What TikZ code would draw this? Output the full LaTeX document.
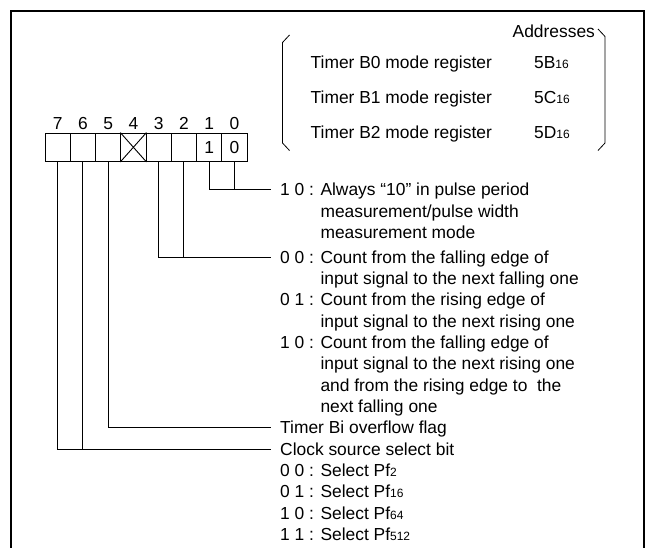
\documentclass[tikz,border=0pt]{standalone}
\usepackage{fontspec}
\setmainfont{Liberation Sans}
\newcommand\smalldig[1]{{\fontsize{12}{12}\selectfont #1}}
\begin{document}
\begin{tikzpicture}[x=1pt,y=-1pt,
  every node/.style={font=\fontsize{17.4}{21.33}\selectfont, inner sep=0pt},
  txt/.style={anchor=base west},
  cell/.style={draw, line width=0.9pt, minimum width=25.25pt, minimum height=28.5pt},
  conn/.style={line width=0.9pt},
  frame/.style={line width=2.5pt},
  brk/.style={line width=0.8pt}]
\useasboundingbox (0,0) rectangle (647,547);
% frame (open at the bottom)
\draw[frame] (11,549) -- (11,11) -- (644,11) -- (644,549);
% header
\node[txt] (addr) at (512.5,37.2) {Addresses};
\node[txt] (r0) at (310.5,68.2) {Timer B0 mode register};
\node[txt] (r1) at (310.5,103.2) {Timer B1 mode register};
\node[txt] (r2) at (310.5,138.2) {Timer B2 mode register};
\node[txt] (a0) at (534,68.2) {5B\smalldig{16}};
\node[txt] (a1) at (534,103.2) {5C\smalldig{16}};
\node[txt] (a2) at (534,138.2) {5D\smalldig{16}};
\draw[brk] (289.5,35) -- (282.5,42.5) -- (282.5,143) -- (289.5,150.5);
\draw[brk] (598,29) -- (605,36.5) -- (605,143) -- (598,150.5);
% register cells
\foreach \b in {0,...,7} {
  \node[cell] (c\b) at ({45+(7-\b)*25.25+12.625},147.25) {};
  \node (n\b) at ({45+(7-\b)*25.25+12.625},123.5) {\b};
}
\draw[line width=0.9pt] (c4.north west) -- (c4.south east) (c4.north east) -- (c4.south west);
\node (v1) at (c1) {1};
\node (v0) at (c0) {0};
% connector end points
\coordinate (e10) at (271,189.5);
\coordinate (e32) at (271,257);
\coordinate (e5) at (271,427.7);
\coordinate (e76) at (271,449);
\draw[conn] (c1.south) |- (e10);
\draw[conn] (c0.south) -- (c0.south |- e10);
\draw[conn] (c3.south) |- (e32);
\draw[conn] (c2.south) -- (c2.south |- e32);
\draw[conn] (c5.south) |- (e5);
\draw[conn] (c7.south) |- (e76);
\draw[conn] (c6.south) -- (c6.south |- e76);
% descriptions
\node[txt] (d10a) at (280,195.7) {1 0 : Always “10” in pulse period};
\node[txt] (d10b) at (280,217.03) {\hphantom{1 0 : }measurement/pulse width};
\node[txt] (d10c) at (280,238.37) {\hphantom{1 0 : }measurement mode};
\node[txt] (d32a) at (280,263.2) {0 0 : Count from the falling edge of};
\node[txt] (d32b) at (280,284.53) {\hphantom{0 0 : }input signal to the next falling one};
\node[txt] (d32c) at (280,305.87) {0 1 : Count from the rising edge of};
\node[txt] (d32d) at (280,327.2) {\hphantom{0 1 : }input signal to the next rising one};
\node[txt] (d32e) at (280,348.53) {1 0 : Count from the falling edge of};
\node[txt] (d32f) at (280,369.87) {\hphantom{1 0 : }input signal to the next rising one};
\node[txt] (d32g) at (280,391.2) {\hphantom{1 0 : }and from the rising edge to\ \ the};
\node[txt] (d32h) at (280,412.53) {\hphantom{1 0 : }next falling one};
\node[txt] (d5) at (280,433.87) {Timer Bi overflow flag};
\node[txt] (d76a) at (280,455.2) {Clock source select bit};
\node[txt] (d76b) at (280,476.53) {0 0 : Select Pf\smalldig{2}};
\node[txt] (d76c) at (280,497.87) {0 1 : Select Pf\smalldig{16}};
\node[txt] (d76d) at (280,519.2) {1 0 : Select Pf\smalldig{64}};
\node[txt] (d76e) at (280,540.53) {1 1 : Select Pf\smalldig{512}};
\end{tikzpicture}
\end{document}
